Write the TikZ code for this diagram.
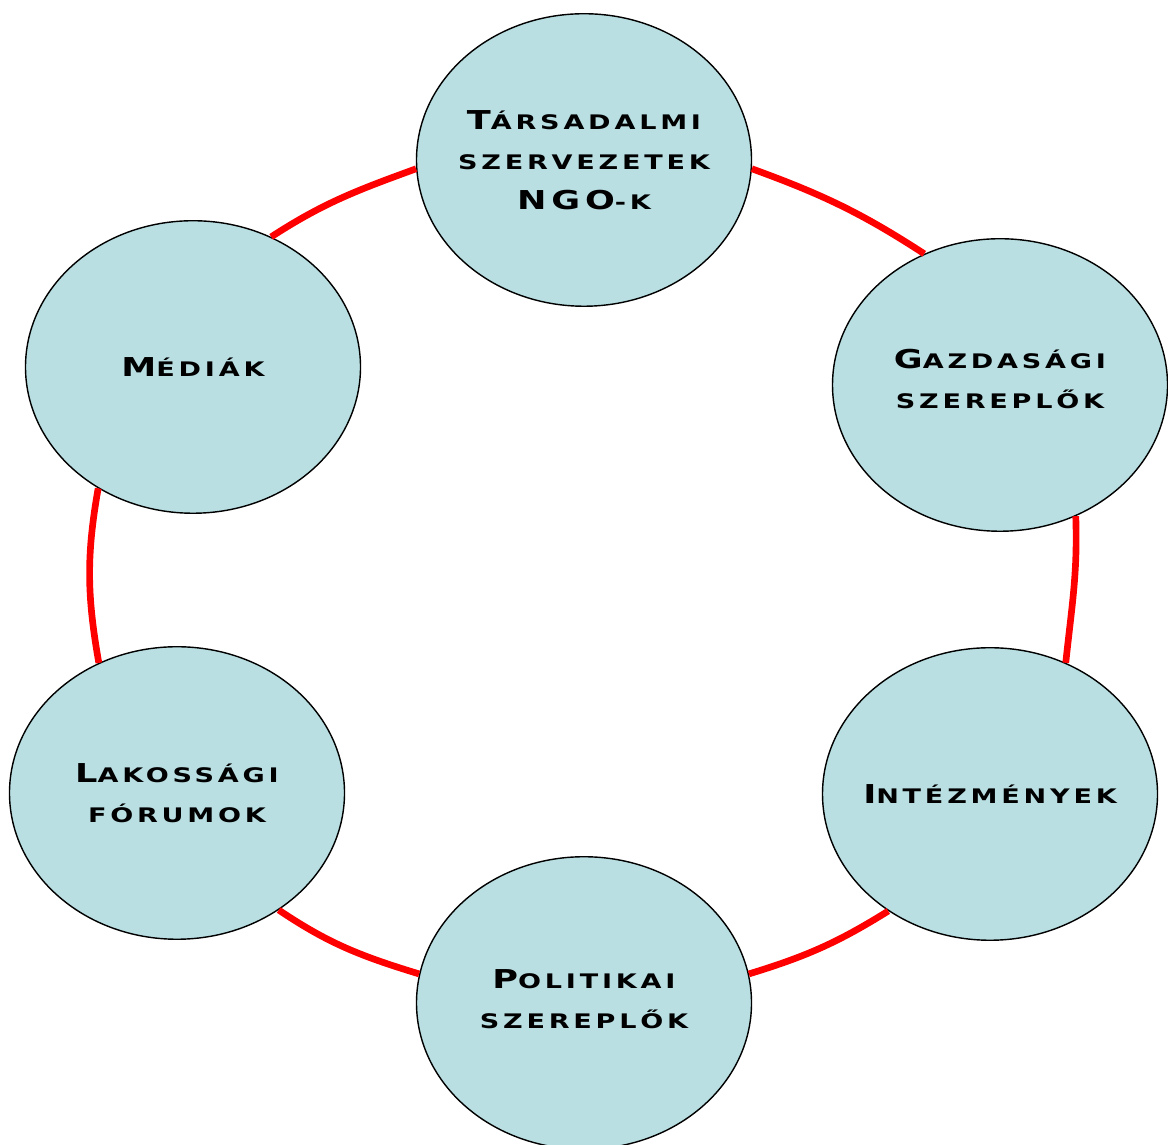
\documentclass[tikz,border=0pt]{standalone}
\usepackage{fontspec}
\newfontfamily\capsfont{DejaVu Sans Bold}[FakeStretch=1.35,LetterSpace=19]
\usetikzlibrary{shapes.geometric}
\definecolor{actorblue}{RGB}{185,223,227}
\newcommand{\capbig}[1]{{\fontsize{14.8}{22.8}\selectfont #1}}
\newcommand{\capsmall}[1]{{\fontsize{11.4}{22.8}\selectfont\MakeUppercase{#1}}}
\tikzset{
  actor/.style={ellipse, draw=black, line width=0.8pt, fill=actorblue,
    minimum width=6.7cm, minimum height=5.85cm},
  actorname/.style={align=center, font=\capsfont\fontsize{11.4}{22.8}\selectfont},
  link/.style={draw=red, line width=3.8pt}
}
\begin{document}
\begin{tikzpicture}
  \useasboundingbox (0,0) rectangle (23.36,22.9);

  \node[actor, label={[actorname]center:\capbig{T}\capsmall{ársadalmi}\\\capsmall{szervezetek}\\\capbig{NGO}\capsmall{-k}}] (tars) at (11.68,19.70) {};
  \node[actor, label={[actorname, yshift=0.12cm]center:\capbig{G}\capsmall{azdasági}\\\capsmall{szereplők}}] (gazd) at (20.00,15.20) {};
  \node[actor, label={[actorname]center:\capbig{I}\capsmall{ntézmények}}] (inte) at (19.80,7.02) {};
  \node[actor, label={[actorname, yshift=0.08cm]center:\capbig{P}\capsmall{olitikai}\\\capsmall{szereplők}}] (poli) at (11.68,2.84) {};
  \node[actor, label={[actorname]center:\capbig{L}\capsmall{akossági}\\\capsmall{fórumok}}] (lako) at (3.54,7.04) {};
  \node[actor, label={[actorname]center:\capbig{M}\capsmall{édiák}}] (medi) at (3.86,15.56) {};

  % red ring between the actors
  \draw[link] (medi.59) to[out=33, in=200] (tars.183);
  \draw[link] (tars.357) to[out=-20, in=147] (gazd.120);
  \draw[link] (gazd.300) to[out=-88, in=84] (inte.60);
  \draw[link] (inte.229) to[out=212, in=17] (poli.10);
  \draw[link] (poli.170) to[out=163, in=326] (lako.311);
  \draw[link] (lako.121) to[out=100, in=260] (medi.232);
\end{tikzpicture}
\end{document}
